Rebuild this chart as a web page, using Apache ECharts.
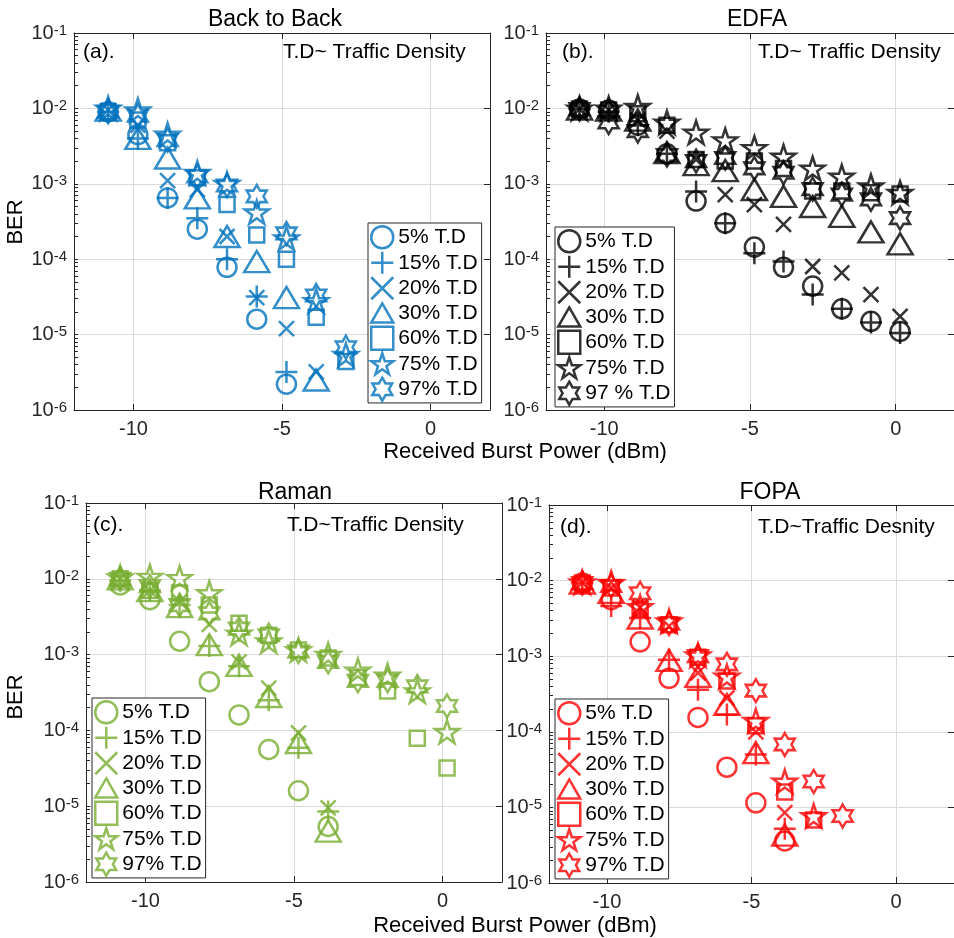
<!DOCTYPE html>
<html>
<head>
<meta charset="utf-8">
<script src="https://cdn.jsdelivr.net/npm/echarts@6/dist/echarts.min.js"></script>
<style>
html, body { margin: 0; padding: 0; background: #fff; }
#chart { width: 954px; height: 938px; }
</style>
</head>
<body>
<div id="chart"></div>
<script>
// Received burst power (dBm) of each measurement step
const powerSteps = [-10.85, -9.85, -8.85, -7.85, -6.85, -5.85, -4.85, -3.85, -2.85, -1.85, -0.85, 0.15];
// FEC threshold
const fecLimit = 1e-3;
// Axis ticks
const xTicks = [-10, -5, 0];
const yDecades = [1e-6, 1e-5, 1e-4, 1e-3, 1e-2, 1e-1];

const trafficNames = ['5% T.D', '15% T.D', '20% T.D', '30% T.D', '60% T.D', '75% T.D', '97% T.D'];
const trafficNamesEdfa = ['5% T.D', '15% T.D', '20% T.D', '30% T.D', '60% T.D', '75% T.D', '97 % T.D'];

// BER, back to back
const b2b5 = [9.0e-3, 4.5e-3, 6.5e-4, 2.5e-4, 7.8e-5, 1.6e-5, 2.2e-6];
const b2b15 = [9.0e-3, 4.0e-3, 6.5e-4, 3.5e-4, 1.0e-4, 3.2e-5, 3.2e-6];
const b2b20 = [9.5e-3, 6.0e-3, 1.1e-3, 8.4e-4, 2.0e-4, 3.1e-5, 1.2e-5, 3.2e-6];
const b2b30 = [9.5e-3, 4.0e-3, 2.2e-3, 6.5e-4, 2.0e-4, 9.3e-5, 3.1e-5, 2.5e-6];
const b2b60 = [9.0e-3, 7.0e-3, 3.5e-3, 1.2e-3, 5.3e-4, 2.1e-4, 1.0e-4, 1.7e-5, 4.4e-6];
const b2b75 = [1.0e-2, 9.5e-3, 4.5e-3, 1.4e-3, 1.0e-3, 4.2e-4, 1.9e-4, 2.8e-5, 5.4e-6];
const b2b97 = [9.0e-3, 8.0e-3, 3.8e-3, 1.25e-3, 9.5e-4, 6.8e-4, 2.2e-4, 3.3e-5, 6.8e-6];

// BER, EDFA
const edfa5 = [9.8e-3, 9.5e-3, 6.0e-3, 2.5e-3, 5.9e-4, 3.0e-4, 1.45e-4, 7.8e-5, 4.4e-5, 2.2e-5, 1.5e-5, 1.1e-5];
const edfa15 = [9.8e-3, 9.0e-3, 6.0e-3, 2.5e-3, 7.9e-4, 3.0e-4, 1.2e-4, 9.3e-5, 3.4e-5, 2.2e-5, 1.45e-5, 1.05e-5];
const edfa20 = [9.8e-3, 9.5e-3, 7.0e-3, 5.0e-3, 2.1e-3, 7.2e-4, 5.3e-4, 2.9e-4, 8.0e-5, 6.6e-5, 3.4e-5, 1.75e-5];
const edfa30 = [9.8e-3, 9.5e-3, 7.0e-3, 2.6e-3, 1.8e-3, 1.5e-3, 8.4e-4, 6.8e-4, 5.0e-4, 3.7e-4, 2.3e-4, 1.6e-4];
const edfa60 = [9.8e-3, 9.5e-3, 8.5e-3, 6.0e-3, 2.1e-3, 2.0e-3, 2.0e-3, 1.6e-3, 8.0e-4, 8.0e-4, 7.6e-4, 7.3e-4];
const edfa75 = [1.0e-2, 1.0e-2, 1.05e-2, 6.5e-3, 4.8e-3, 3.8e-3, 3.0e-3, 2.3e-3, 1.6e-3, 1.25e-3, 9.3e-4, 7.6e-4];
const edfa97 = [9.8e-3, 6.5e-3, 5.0e-3, 2.4e-3, 2.0e-3, 2.2e-3, 1.6e-3, 1.4e-3, 8.5e-4, 7.2e-4, 6.2e-4, 3.5e-4];

// BER, Raman
const raman5 = [8.3e-3, 5.3e-3, 1.5e-3, 4.4e-4, 1.6e-4, 5.6e-5, 1.6e-5, 5.4e-6];
const raman15 = [9.5e-3, 7.0e-3, 4.5e-3, 1.3e-3, 7.0e-4, 2.5e-4, 5.9e-5, 8.5e-6];
const raman20 = [9.8e-3, 7.0e-3, 5.0e-3, 2.5e-3, 8.0e-4, 3.6e-4, 9.3e-5, 9.5e-6];
const raman30 = [1.0e-2, 7.0e-3, 4.3e-3, 1.35e-3, 7.2e-4, 2.8e-4, 6.9e-5, 4.7e-6];
const raman60 = [1.0e-2, 7.0e-3, 6.5e-3, 4.5e-3, 2.6e-3, 1.8e-3, 1.15e-3, 9.0e-4, 5.0e-4, 3.3e-4, 7.9e-5, 3.2e-5];
const raman75 = [1.05e-2, 1.07e-2, 1.03e-2, 6.5e-3, 1.9e-3, 1.5e-3, 1.15e-3, 1.0e-3, 6.2e-4, 5.3e-4, 3.3e-4, 9.6e-5];
const raman97 = [1.0e-2, 8.0e-3, 4.5e-3, 3.5e-3, 2.2e-3, 1.8e-3, 1.1e-3, 8.0e-4, 4.5e-4, 4.5e-4, 3.8e-4, 2.1e-4];

// BER, FOPA
const fopa5 = [9.3e-3, 5.6e-3, 1.55e-3, 5.1e-4, 1.55e-4, 3.4e-5, 1.15e-5, 3.6e-6];
const fopa15 = [9.3e-3, 4.6e-3, 3.2e-3, 9.0e-4, 3.6e-4, 1.7e-4, 5.0e-5, 5.2e-6];
const fopa20 = [9.3e-3, 8.0e-3, 4.4e-3, 2.5e-3, 6.0e-4, 2.8e-4, 1.0e-4, 8.5e-6];
const fopa30 = [9.3e-3, 7.0e-3, 3.2e-3, 8.8e-4, 5.4e-4, 2.3e-4, 5.3e-5, 4.3e-6];
const fopa60 = [9.3e-3, 8.0e-3, 4.2e-3, 2.6e-3, 9.7e-4, 4.7e-4, 1.2e-4, 1.6e-5, 6.8e-6];
const fopa75 = [9.5e-3, 9.3e-3, 4.5e-3, 2.9e-3, 1.03e-3, 5.4e-4, 1.4e-4, 2.2e-5, 7.7e-6];
const fopa97 = [9.3e-3, 8.5e-3, 6.8e-3, 2.7e-3, 1.0e-3, 7.8e-4, 3.5e-4, 6.8e-5, 2.2e-5, 7.7e-6];

const FONT = 'Liberation Sans, Arial, Helvetica, sans-serif';
const AXIS_COLOR = '#262626';
const GRID_COLOR = '#dadada';

// star outline on a 100x100 box: n points, inner radius ratio
function starPath(n, inner) {
  const pts = [];
  for (let i = 0; i < 2 * n; i++) {
    const a = -Math.PI / 2 + i * Math.PI / n;
    const r = (i % 2 ? inner : 1) * 50;
    pts.push((50 + r * Math.cos(a)).toFixed(2) + ',' + (50 + r * Math.sin(a)).toFixed(2));
  }
  return 'path://M' + pts.join('L') + 'Z';
}

const markers = [
  { symbol: 'circle', size: 19 },
  { symbol: 'path://M10,0L10,20M0,10L20,10', size: 22 },
  { symbol: 'path://M0,0L20,20M20,0L0,20', size: 15 },
  { symbol: 'path://M10,0L20,17.32L0,17.32Z', size: [25, 21] },
  { symbol: 'rect', size: 15 },
  { symbol: starPath(5, 0.382), size: [24, 23] },
  { symbol: starPath(6, 0.577), size: [20, 23] }
];

// minor ticks for the log axis
const yMinor = [];
yDecades.forEach(function (d, i) {
  yMinor.push(d);
  if (i < yDecades.length - 1) {
    for (let k = 2; k <= 9; k++) yMinor.push(+(k * d).toPrecision(3));
  }
});

const panels = [
  { key: 'a', color: '#0072BD', names: trafficNames, sets: [b2b5, b2b15, b2b20, b2b30, b2b60, b2b75, b2b97],
    grid: { left: 74, top: 33, width: 416, height: 377 }, legend: { left: 368, top: 223 } },
  { key: 'b', color: '#000000', names: trafficNamesEdfa, sets: [edfa5, edfa15, edfa20, edfa30, edfa60, edfa75, edfa97],
    grid: { left: 546, top: 33, width: 416, height: 377 }, legend: { left: 555, top: 227 } },
  { key: 'c', color: '#77AC30', names: trafficNames, sets: [raman5, raman15, raman20, raman30, raman60, raman75, raman97],
    grid: { left: 86, top: 503, width: 416, height: 379 }, legend: { left: 92, top: 698 } },
  { key: 'd', color: '#FF0000', names: trafficNames, sets: [fopa5, fopa15, fopa20, fopa30, fopa60, fopa75, fopa97],
    grid: { left: 549, top: 505, width: 416, height: 378 }, legend: { left: 555, top: 699 } }
];

const grids = [], xAxes = [], yAxes = [], series = [], legends = [];

panels.forEach(function (p, gi) {
  grids.push(Object.assign({ containLabel: false }, p.grid));
  const xBase = { gridIndex: gi, type: 'value', min: -12, max: 2 };
  // bottom axis: labels and grid lines
  xAxes.push(Object.assign({}, xBase, {
    position: 'bottom',
    axisLine: { show: true, onZero: false, lineStyle: { color: AXIS_COLOR, width: 1 } },
    axisTick: { show: true, inside: true, length: 6, customValues: xTicks, lineStyle: { color: AXIS_COLOR } },
    axisLabel: { customValues: xTicks, fontSize: 20, fontFamily: FONT, color: AXIS_COLOR, margin: 9 },
    splitLine: { show: true, lineStyle: { color: GRID_COLOR, width: 1 } }
  }));
  // top axis: box edge
  xAxes.push(Object.assign({}, xBase, {
    position: 'top',
    axisLine: { show: true, onZero: false, lineStyle: { color: AXIS_COLOR, width: 1 } },
    axisTick: { show: true, inside: true, length: 6, customValues: xTicks, lineStyle: { color: AXIS_COLOR } },
    axisLabel: { show: false },
    splitLine: { show: false }
  }));
  const yBase = { gridIndex: gi, type: 'log', logBase: 10, min: 1e-6, max: 1e-1 };
  // left axis: labels and minor ticks
  yAxes.push(Object.assign({}, yBase, {
    position: 'left',
    axisLine: { show: true, onZero: false, lineStyle: { color: AXIS_COLOR, width: 1 } },
    axisTick: { show: true, inside: true, length: 4, customValues: yMinor, lineStyle: { color: AXIS_COLOR } },
    axisLabel: {
      customValues: yDecades,
      margin: 7,
      formatter: function (v) { return '{b|10}{s|' + Math.round(Math.log10(v)) + '}'; },
      rich: {
        b: { fontSize: 20, fontFamily: FONT, color: AXIS_COLOR, lineHeight: 20, verticalAlign: 'bottom' },
        s: { fontSize: 15, fontFamily: FONT, color: AXIS_COLOR, lineHeight: 15, verticalAlign: 'top', padding: [0, 0, 10, 0] }
      }
    },
    splitLine: { show: false }
  }));
  // right axis: box edge and decade grid lines
  yAxes.push(Object.assign({}, yBase, {
    position: 'right',
    axisLine: { show: true, onZero: false, lineStyle: { color: AXIS_COLOR, width: 1 } },
    axisTick: { show: true, inside: true, length: 6, lineStyle: { color: AXIS_COLOR } },
    axisLabel: { show: false },
    splitLine: { show: true, lineStyle: { color: GRID_COLOR, width: 1 } }
  }));

  const legendData = [];
  p.sets.forEach(function (vals, si) {
    const name = p.key + ':' + p.names[si];
    legendData.push(name);
    const s = {
      name: name,
      type: 'scatter',
      xAxisIndex: gi * 2,
      yAxisIndex: gi * 2,
      symbol: markers[si].symbol,
      symbolSize: markers[si].size,
      itemStyle: { color: 'rgba(0,0,0,0)', borderColor: p.color, borderWidth: 2.5 },
      emphasis: { disabled: true },
      data: vals.map(function (v, i) { return [powerSteps[i], v]; }),
      z: 3
    };
    if (si === 0) {
      s.markLine = {
        silent: true,
        symbol: ['none', 'none'],
        label: { show: false },
        lineStyle: { color: '#D95319', type: [5, 3], width: 1 },
        data: [{ yAxis: fecLimit }],
        z: 2
      };
    }
    series.push(s);
  });

  legends.push({
    left: p.legend.left,
    top: p.legend.top,
    orient: 'vertical',
    data: legendData,
    selectedMode: false,
    formatter: function (n) { return n.slice(2); },
    backgroundColor: '#ffffff',
    borderColor: AXIS_COLOR,
    borderWidth: 1,
    padding: [2, 4, 1, 2],
    itemGap: 1,
    itemWidth: 22,
    itemHeight: 23,
    itemStyle: { borderWidth: 2.5 },
    textStyle: { fontSize: 21, fontFamily: FONT, color: '#000', lineHeight: 23 },
    z: 10
  });
});

function txt(text, x, y, size, align, rot) {
  return {
    type: 'text', x: x, y: y, rotation: rot || 0, z: 20,
    style: { text: text, font: size + 'px ' + FONT, fill: '#000', textAlign: align || 'center', textVerticalAlign: 'middle' }
  };
}

const graphics = [
  txt('Back to Back', 275, 20, 23),
  txt('EDFA', 757, 20, 23),
  txt('Raman', 295, 493, 23),
  txt('FOPA', 770, 493, 23),
  txt('(a).', 83, 52, 21, 'left'),
  txt('(b).', 562, 52, 21, 'left'),
  txt('(c).', 93, 525, 21, 'left'),
  txt('(d).', 560, 527, 21, 'left'),
  txt('T.D~ Traffic Density', 283, 52, 21, 'left'),
  txt('T.D~ Traffic Density', 758, 52, 21, 'left'),
  txt('T.D~Traffic Density', 287, 525, 21, 'left'),
  txt('T.D~Traffic Desnity', 758, 527, 21, 'left'),
  txt('BER', 16, 222, 22, 'center', Math.PI / 2),
  txt('BER', 16, 697, 22, 'center', Math.PI / 2),
  txt('Received Burst Power (dBm)', 525, 452, 22),
  txt('Received Burst Power (dBm)', 515, 926, 22)
];

const chart = echarts.init(document.getElementById('chart'), null, { renderer: 'canvas' });
chart.setOption({
  animation: false,
  backgroundColor: '#ffffff',
  grid: grids,
  xAxis: xAxes,
  yAxis: yAxes,
  legend: legends,
  series: series,
  graphic: graphics
});
</script>
</body>
</html>
